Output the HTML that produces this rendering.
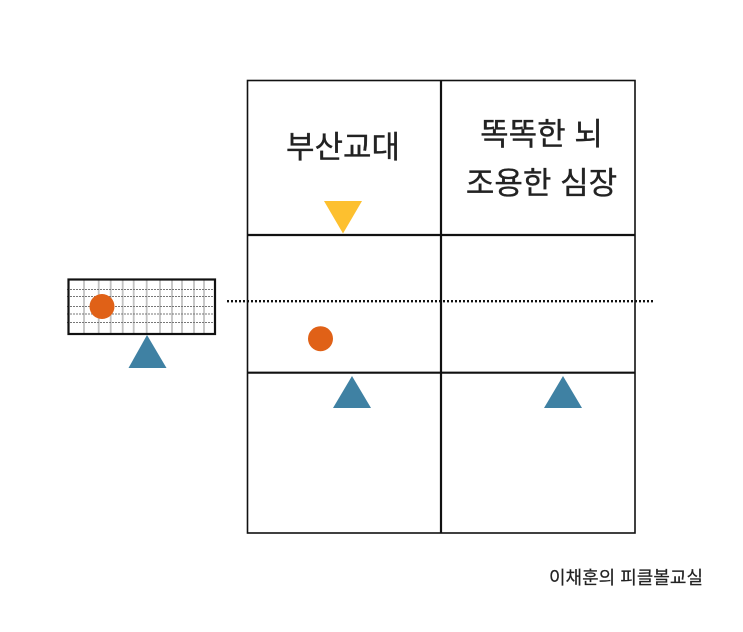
<!DOCTYPE html>
<html><head><meta charset="utf-8">
<style>
html,body{margin:0;padding:0;background:#fff;width:743px;height:632px;overflow:hidden}
svg{display:block}
text{font-family:"Liberation Sans","Noto Sans CJK KR",sans-serif;fill:#222;font-weight:400}
.b{stroke:#222;stroke-width:.35px}
.f{stroke:#222;stroke-width:.2px}
</style></head>
<body>
<svg width="743" height="632" viewBox="0 0 743 632" xmlns="http://www.w3.org/2000/svg">
<rect width="743" height="632" fill="#fff"/>
<!-- left grid -->
<g stroke="#c2c2c2" stroke-width="1.8">
<path d="M84 279V335M98.7 279V335M110.7 279V335M122.7 279V335M133.7 279V335M146.7 279V335M160 279V335M172 279V335M182 279V335M194 279V335M204 279V335"/>
</g>
<g stroke="#777" stroke-width="1.1" stroke-dasharray="2 1">
<path d="M67 289.5H215M67 296.5H215M67 306.5H215M67 314H215M67 322.5H215"/>
</g>
<rect x="68.5" y="279.5" width="146.5" height="54.5" fill="none" stroke="#111" stroke-width="2.2"/>
<circle cx="102" cy="306.5" r="12.5" fill="#e06117"/>
<polygon points="147,335 166.5,368 128.5,368" fill="#3f81a3"/>
<!-- table -->
<g fill="none" stroke="#111">
<rect x="247.5" y="80.5" width="387.5" height="452.5" stroke-width="1.6"/>
<path d="M441 80V533" stroke-width="2.2"/>
<path d="M247 235H635M247 372.7H635" stroke-width="2.2"/>
</g>
<!-- dotted -->
<path d="M227 301.2H654" stroke="#111" stroke-width="2.4" stroke-dasharray="2 2" fill="none"/>
<!-- markers -->
<polygon points="324,201 362,201 343,233.5" fill="#fdc02f"/>
<circle cx="320.5" cy="338.7" r="12.5" fill="#e06117"/>
<polygon points="352,376 371,408 333,408" fill="#3f81a3"/>
<polygon points="563,376 582,408 544,408" fill="#3f81a3"/>
<!-- labels -->
<text class="b" x="343" y="158" font-size="31" text-anchor="middle">부산교대</text>
<text class="b" x="541.5" y="145" font-size="31" text-anchor="middle">똑똑한 뇌</text>
<text class="b" x="541.5" y="194" font-size="31" text-anchor="middle">조용한 심장</text>
<text class="f" x="626" y="584" font-size="18" text-anchor="middle">이채훈의 피클볼교실</text>
</svg>
</body></html>
